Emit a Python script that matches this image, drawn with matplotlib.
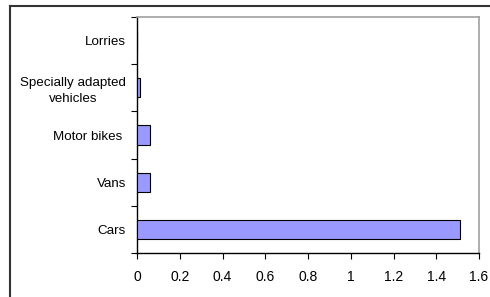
import matplotlib
matplotlib.use("Agg")
import matplotlib.pyplot as plt
from matplotlib.lines import Line2D

categories = ["Cars", "Vans", "Motor bikes ", "Specially adapted\nvehicles", "Lorries"]
values = [1.51, 0.063, 0.063, 0.016, 0.0]
xticks = [0, 0.2, 0.4, 0.6, 0.8, 1, 1.2, 1.4, 1.6]
xtick_labels = ["0", "0.2", "0.4", "0.6", "0.8", "1", "1.2", "1.4", "1.6"]

plt.rcParams['font.family'] = ['Liberation Sans', 'DejaVu Sans']

W, H = 490, 297
fig = plt.figure(figsize=(W / 100, H / 100), dpi=100)
ax = fig.add_axes([137 / W, 1 - 253 / H, (479 - 137) / W, (253 - 17) / H])

ypos = list(range(len(categories)))
ax.barh(ypos, values, height=0.41, color="#9999ff", edgecolor="black", linewidth=0.8, zorder=3)

ax.set_xlim(0, 1.6)
ax.set_ylim(-0.5, len(categories) - 0.5)
ax.set_xticks(xticks)
ax.set_xticklabels(xtick_labels, fontsize=10)
ax.set_yticks(ypos)
ax.set_yticklabels(categories, fontsize=9.6, ha="right", multialignment="center", linespacing=1.4)
ax.tick_params(axis="y", length=0, pad=8)
# boundary ticks for categories
ax.set_yticks([y - 0.5 for y in range(len(categories) + 1)], minor=True)
ax.tick_params(axis="y", which="minor", length=4, width=0.8, direction="out")
ax.tick_params(axis="x", length=4, width=0.8, direction="out", pad=8)

for s in ["left", "bottom"]:
    ax.spines[s].set_color("black")
    ax.spines[s].set_linewidth(1.0)
for s in ["top", "right"]:
    ax.spines[s].set_color("#a0a0a0")
    ax.spines[s].set_linewidth(1.2)

# outer chart border (top and left visible)
fig.add_artist(Line2D([9.5 / W, 1.0], [1 - 5.5 / H, 1 - 5.5 / H], transform=fig.transFigure, color="#333333", linewidth=1.5))
fig.add_artist(Line2D([9.5 / W, 9.5 / W], [0, 1 - 5.5 / H], transform=fig.transFigure, color="#333333", linewidth=1.5))

fig.savefig("out.png", dpi=100)
